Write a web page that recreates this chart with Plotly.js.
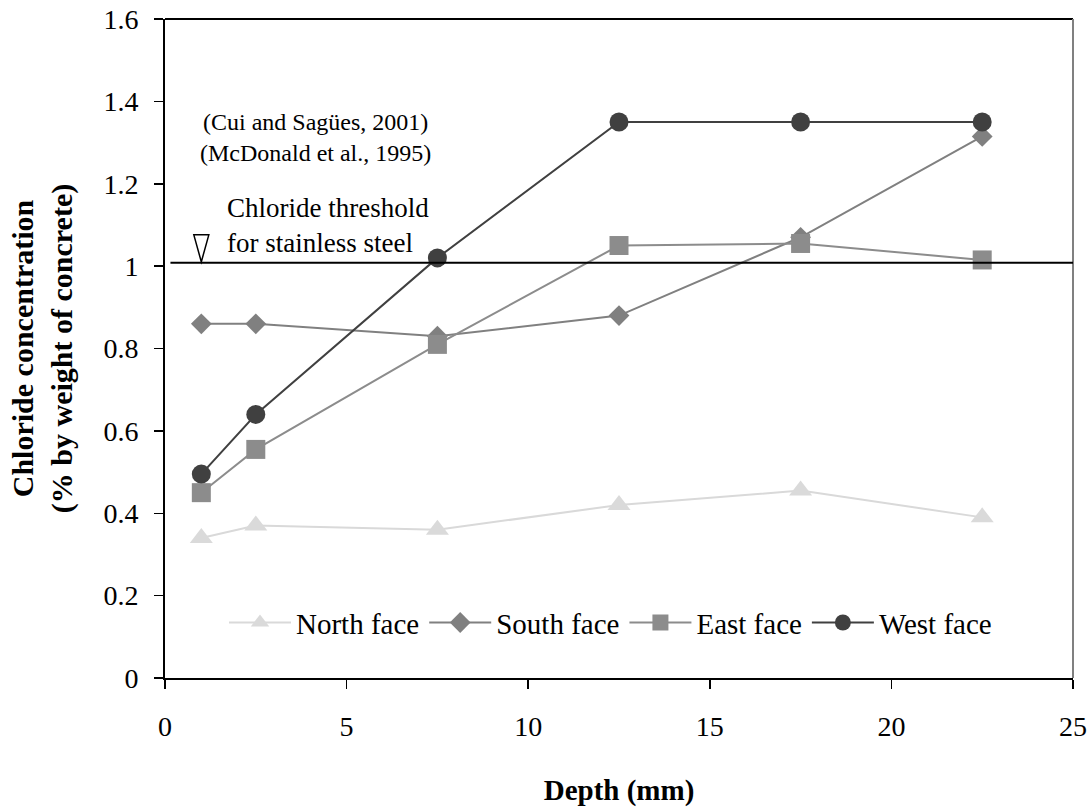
<!DOCTYPE html>
<html>
<head>
<meta charset="utf-8">
<script src="https://cdn.plot.ly/plotly-3.0.1.min.js"></script>
<style>html,body{margin:0;padding:0;background:#fff;}#chart{width:1092px;height:808px;}</style>
</head>
<body>
<div id="chart"></div>
<script>
// Data
const depth = [1, 2.5, 7.5, 12.5, 17.5, 22.5];
const northFace = [0.34, 0.37, 0.36, 0.42, 0.455, 0.39];
const southFace = [0.86, 0.86, 0.83, 0.88, 1.07, 1.315];
const eastFace = [0.45, 0.555, 0.81, 1.05, 1.055, 1.015];
const westFace = [0.495, 0.64, 1.02, 1.35, 1.35, 1.35];
const seriesNames = ['North face', 'South face', 'East face', 'West face'];
const xTicks = [0, 5, 10, 15, 20, 25];
const yTicks = [0, 0.2, 0.4, 0.6, 0.8, 1, 1.2, 1.4, 1.6];
const yTickLabels = ['0', '0.2', '0.4', '0.6', '0.8', '1', '1.2', '1.4', '1.6'];
const thresholdValue = 1.008;
const thresholdMarkerDepth = 1;

const FONT = "'Liberation Serif', 'Times New Roman', Times, serif";

const traces = [
  {x: depth, y: northFace, name: seriesNames[0], mode: 'lines+markers',
   line: {color: '#d9d9d9', width: 2}, marker: {symbol: 'triangle-up', size: 20, color: '#dadada'}},
  {x: depth, y: southFace, name: seriesNames[1], mode: 'lines+markers',
   line: {color: '#808080', width: 2}, marker: {symbol: 'diamond', size: 16, color: '#808080'}},
  {x: depth, y: eastFace, name: seriesNames[2], mode: 'lines+markers',
   line: {color: '#8c8c8c', width: 2}, marker: {symbol: 'square', size: 19, color: '#8c8c8c'}},
  {x: depth, y: westFace, name: seriesNames[3], mode: 'lines+markers',
   line: {color: '#404040', width: 2}, marker: {symbol: 'circle', size: 19, color: '#404040'}}
];

const layout = {
  width: 1092, height: 808,
  margin: {l: 165, r: 19, t: 19, b: 130},
  paper_bgcolor: '#fff', plot_bgcolor: '#fff',
  font: {family: FONT, size: 28, color: '#000'},
  showlegend: true,
  legend: {orientation: 'h', x: 0.065, xanchor: 'left', y: 0.084, yanchor: 'middle',
           font: {family: FONT, size: 29, color: '#000'}, bgcolor: 'rgba(0,0,0,0)',
           itemwidth: 62, tracegroupgap: 0},
  xaxis: {
    range: [0, 25], tickvals: xTicks, ticktext: xTicks.map(String),
    showgrid: false, zeroline: false, showline: true, linecolor: '#000', linewidth: 2,
    ticks: 'outside', ticklen: 9, tickwidth: 1.5, tickcolor: '#000',
    ticklabelstandoff: 13,
    tickfont: {family: FONT, size: 28, color: '#000'},
    title: {text: '<b>Depth (mm)</b>', font: {family: FONT, size: 29, color: '#000'}, standoff: 39}
  },
  yaxis: {
    range: [0, 1.6], tickvals: yTicks, ticktext: yTickLabels,
    showgrid: false, zeroline: false, showline: true, linecolor: '#000', linewidth: 2,
    ticks: 'outside', ticklen: 9, tickwidth: 1.5, tickcolor: '#000',
    ticklabelstandoff: 10,
    tickfont: {family: FONT, size: 28, color: '#000'},
    title: {text: '<b>Chloride concentration<br>(% by weight of concrete)</b>',
            font: {family: FONT, size: 30, color: '#000'}, standoff: 22}
  },
  shapes: [
    {type: 'line', xref: 'paper', yref: 'paper', x0: 0, x1: 1, y0: 1, y1: 1,
     line: {color: '#000', width: 2}},
    {type: 'line', xref: 'paper', yref: 'paper', x0: 1, x1: 1, y0: 0, y1: 1,
     line: {color: '#808080', width: 2}},
    {type: 'line', xref: 'x', yref: 'y', x0: 0.15, x1: 25, y0: thresholdValue, y1: thresholdValue,
     line: {color: '#000', width: 2}},
    {type: 'path', xref: 'x', yref: 'y', xsizemode: 'pixel', ysizemode: 'pixel',
     xanchor: thresholdMarkerDepth, yanchor: thresholdValue,
     path: 'M-7.5,28 L7.5,28 L0,1 Z', line: {color: '#000', width: 1.5}, fillcolor: '#fff'}
  ],
  annotations: [
    {xref: 'x', yref: 'y', x: 1.66, y: 1.098, xanchor: 'left', yanchor: 'middle', align: 'left',
     showarrow: false, text: 'Chloride threshold<br>for stainless steel',
     font: {family: FONT, size: 27, color: '#000'}},
    {xref: 'x', yref: 'y', x: 4.14, y: 1.312, xanchor: 'center', yanchor: 'middle', align: 'center',
     showarrow: false, text: '(Cui and Sagües, 2001)<br>(McDonald et al., 1995)',
     font: {family: FONT, size: 24, color: '#000'}}
  ]
};

Plotly.newPlot('chart', traces, layout, {displayModeBar: false, staticPlot: true});
</script>
</body>
</html>
